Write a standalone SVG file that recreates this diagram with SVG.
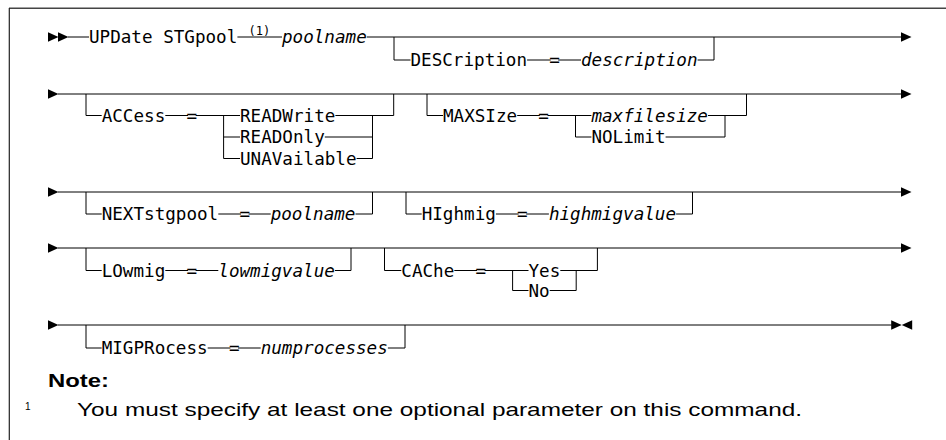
<svg xmlns="http://www.w3.org/2000/svg" width="946" height="440" viewBox="0 0 946 440">
<style>
  .t{font-family:"DejaVu Sans Mono",monospace;font-size:17.6px;fill:#000}
  .i{font-style:italic}
  .sup{font-family:"DejaVu Sans Mono",monospace;font-size:12px;fill:#000}
  .ln{fill:none;stroke:#000;stroke-width:1}
  .nb{font-family:"Liberation Sans",Arial,sans-serif;font-weight:bold;font-size:19px;fill:#000}
  .nt{font-family:"Liberation Sans",Arial,sans-serif;font-size:19px;fill:#000}
  .ns{font-family:"Liberation Sans",Arial,sans-serif;font-size:10px;fill:#000}
</style>
<defs>
  <path id="ar" d="M0,-4.7 L10.5,0 L0,4.7 Z" fill="#000"/>
  <path id="al" d="M0,0 L10.5,-4.7 L10.5,4.7 Z" fill="#000"/>
</defs>
<rect width="946" height="440" fill="#fff"/>
<g id="frame">
  <path d="M9,8.3 H946" stroke="#444" stroke-width="1.6" fill="none"/>
  <path d="M9.3,8 V440" stroke="#222" stroke-width="1.2" fill="none"/>
</g>
<g id="connectors">
  <!-- row 1 -->
  <use href="#ar" x="48" y="37"/><use href="#ar" x="58" y="37"/>
  <path class="ln" d="M68,37 H89 M237.4,37 H282 M366.8,37 H901"/>
  <use href="#ar" x="901" y="37"/>
  <path class="ln" d="M394,37 V60 H410.5 M527.1,60 H550.7 M558.2,60 H581 M697.6,60 H714 V37"/>
  <!-- row 2 -->
  <use href="#ar" x="48" y="94"/>
  <path class="ln" d="M58,94 H901"/>
  <use href="#ar" x="901" y="94"/>
  <path class="ln" d="M86,94 V115.5 H101.7 M165.3,115.5 H188 M195.7,115.5 H240 M223.6,115.5 V158.5 H240 M223.6,137 H240 M335.4,115.5 H393.7 V94 M324.8,137 H372.5 M356.6,158.5 H372.5 M372.5,115.5 V158.5"/>
  <path class="ln" d="M427,94 V115.5 H443 M517.2,115.5 H539.8 M547.5,115.5 H591.4 M575.5,115.5 V137 H591.4 M708,115.5 H746.5 V94 M725,115.5 V137 M665.6,137 H725"/>
  <!-- row 3 -->
  <use href="#ar" x="48" y="192"/>
  <path class="ln" d="M58,192 H901"/>
  <use href="#ar" x="901" y="192"/>
  <path class="ln" d="M86,192 V214 H101.7 M218.3,214 H241 M248.6,214 H270.7 M355.5,214 H372.5 V192"/>
  <path class="ln" d="M406,192 V214 H421.7 M495.9,214 H518.6 M526.2,214 H548.9 M676.1,214 H692.5 V192"/>
  <!-- row 4 -->
  <use href="#ar" x="48" y="248"/>
  <path class="ln" d="M58,248 H901"/>
  <use href="#ar" x="901" y="248"/>
  <path class="ln" d="M86,248 V270.5 H101.7 M165.3,270.5 H188 M195.6,270.5 H218.3 M334.9,270.5 H351 V248"/>
  <path class="ln" d="M384.5,248 V270.5 H401.3 M454.3,270.5 H477 M484.6,270.5 H528.5 M512.6,270.5 V290.5 H528.5 M560.3,270.5 H597.4 V248 M576.2,270.5 V290.5 M549.7,290.5 H576.2"/>
  <!-- row 5 -->
  <use href="#ar" x="48" y="325"/>
  <path class="ln" d="M58,325 H891.7"/>
  <use href="#ar" x="891.2" y="325"/>
  <use href="#al" x="901.7" y="325"/>
  <path class="ln" d="M86,325 V348 H101.7 M207.7,348 H230.4 M238,348 H260.7 M387.9,348 H405 V325"/>
</g>
<g id="cmd"><text class="t" x="89" y="43.4">UPDate STGpool</text></g>
<g id="fn1"><text class="sup" x="248.5" y="34.5">(1)</text></g>
<g id="poolname1"><text class="t i" x="282" y="43.4">poolname</text></g>
<g id="description"><text class="t" x="410.5" y="66.4">DESCription</text><text class="t" x="549.2" y="66.4">=</text><text class="t i" x="581" y="66.4">description</text></g>
<g id="access"><text class="t" x="101.7" y="121.9">ACCess</text><text class="t" x="186.5" y="121.9">=</text>
  <text class="t" x="240" y="121.9">READWrite</text><text class="t" x="240" y="143.4">READOnly</text><text class="t" x="240" y="164.9">UNAVailable</text></g>
<g id="maxsize"><text class="t" x="443" y="121.9">MAXSIze</text><text class="t" x="538.3" y="121.9">=</text>
  <text class="t i" x="591.4" y="121.9">maxfilesize</text><text class="t" x="591.4" y="143.4">NOLimit</text></g>
<g id="nextstgpool"><text class="t" x="101.7" y="220.4">NEXTstgpool</text><text class="t" x="239.5" y="220.4">=</text><text class="t i" x="270.7" y="220.4">poolname</text></g>
<g id="highmig"><text class="t" x="421.7" y="220.4">HIghmig</text><text class="t" x="517.1" y="220.4">=</text><text class="t i" x="548.9" y="220.4">highmigvalue</text></g>
<g id="lowmig"><text class="t" x="101.7" y="276.9">LOwmig</text><text class="t" x="186.5" y="276.9">=</text><text class="t i" x="218.3" y="276.9">lowmigvalue</text></g>
<g id="cache"><text class="t" x="401.3" y="276.9">CAChe</text><text class="t" x="475.5" y="276.9">=</text>
  <text class="t" x="528.5" y="276.9">Yes</text><text class="t" x="528.5" y="296.9">No</text></g>
<g id="migprocess"><text class="t" x="101.7" y="354.4">MIGPRocess</text><text class="t" x="228.9" y="354.4">=</text><text class="t i" x="260.7" y="354.4">numprocesses</text></g>
<g id="note">
  <text class="nb" x="48" y="387" textLength="61" lengthAdjust="spacingAndGlyphs">Note:</text>
  <text class="ns" x="25" y="410">1</text>
  <text class="nt" x="77" y="416" textLength="725" lengthAdjust="spacingAndGlyphs">You must specify at least one optional parameter on this command.</text>
</g>
</svg>
